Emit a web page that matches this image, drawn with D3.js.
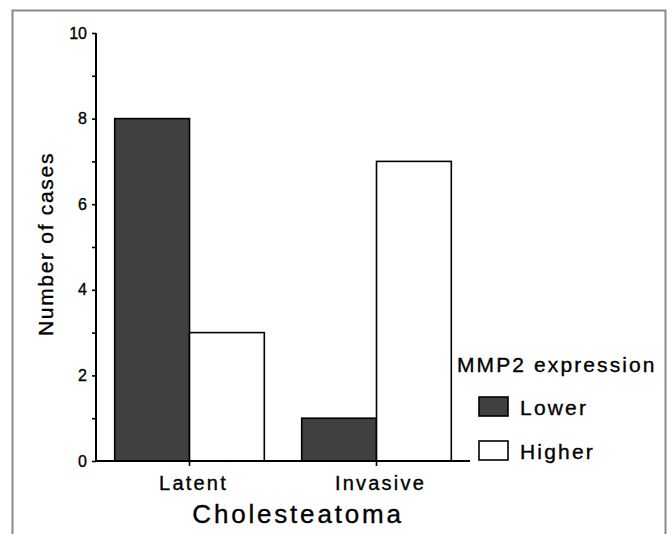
<!DOCTYPE html>
<html>
<head>
<meta charset="utf-8">
<script src="https://cdn.jsdelivr.net/npm/d3@7"></script>
<style>
  html, body { margin: 0; padding: 0; background: #fff; }
  text { font-family: Arial, "Liberation Sans", sans-serif; fill: #000; stroke: #000; stroke-width: 0.35px; }
</style>
</head>
<body>
<div id="chart"></div>
<script>
// data
var categories = ["Latent", "Invasive"];
var seriesNames = ["Lower", "Higher"];
var lowerValues = [8, 1];
var higherValues = [3, 7];
var yTicks = [0, 2, 4, 6, 8, 10];

var width = 672, height = 534;
var colors = { Lower: "#404040", Higher: "#ffffff" };

var svg = d3.select("#chart").append("svg")
    .attr("width", width)
    .attr("height", height);

// grey frame, open at bottom
svg.append("path")
    .attr("d", "M12.5,534 V10.5 H665.5 V534")
    .attr("fill", "none")
    .attr("stroke", "#8a8a8a")
    .attr("stroke-width", 2);

var x0 = d3.scaleBand().domain(categories).range([96, 470]).paddingInner(0.2).paddingOuter(0.1);
var x1 = d3.scaleBand().domain(seriesNames).range([0, x0.bandwidth()]);
var y = d3.scaleLinear().domain([0, 10]).range([461, 33]);

var rows = categories.map(function (c, i) {
  return { cat: c, values: [{ key: "Lower", v: lowerValues[i] }, { key: "Higher", v: higherValues[i] }] };
});

// bars
var groups = svg.selectAll("g.grp").data(rows).enter().append("g")
    .attr("class", "grp")
    .attr("transform", function (d) { return "translate(" + x0(d.cat) + ",0)"; });

groups.selectAll("rect").data(function (d) { return d.values; }).enter().append("rect")
    .attr("x", function (d) { return x1(d.key); })
    .attr("y", function (d) { return y(d.v); })
    .attr("width", x1.bandwidth())
    .attr("height", function (d) { return y(0) - y(d.v); })
    .attr("fill", function (d) { return colors[d.key]; })
    .attr("stroke", "#000")
    .attr("stroke-width", 1.6);

// y axis
var yAxis = svg.append("g")
    .attr("transform", "translate(96,0)")
    .call(d3.axisLeft(y).tickValues(d3.range(0, 11, 1)).tickSize(4).tickPadding(5)
      .tickFormat(function (d) { return yTicks.indexOf(d) >= 0 ? d : ""; }));
yAxis.select(".domain").attr("d", "M0," + y(10) + "V" + y(0)).attr("stroke-width", 2);
yAxis.selectAll(".tick line").attr("stroke-width", 1.6);
yAxis.selectAll("text").style("font-size", "16px").attr("fill", "#000");

// x axis
var xAxis = svg.append("g")
    .attr("transform", "translate(0," + y(0) + ")")
    .call(d3.axisBottom(x0).tickSize(5).tickPadding(10));
xAxis.select(".domain").attr("d", "M96,0H470").attr("stroke-width", 2);
xAxis.selectAll(".tick line").attr("stroke-width", 1.6);
xAxis.selectAll("text")
    .style("font-size", "20px")
    .style("letter-spacing", "2.2px")
    .attr("dx", 4)
    .attr("fill", "#000");

// axis titles
svg.append("text")
    .attr("x", 298).attr("y", 523)
    .attr("text-anchor", "middle")
    .style("font-size", "26px")
    .style("letter-spacing", "2.8px")
    .text("Cholesteatoma");

svg.append("text")
    .attr("transform", "translate(53,244) rotate(-90)")
    .attr("text-anchor", "middle")
    .style("font-size", "21px")
    .style("letter-spacing", "1.7px")
    .text("Number of cases");

// legend
var legend = svg.append("g");
legend.append("text")
    .attr("x", 457).attr("y", 372)
    .style("font-size", "21px")
    .style("letter-spacing", "2.1px")
    .text("MMP2 expression");

var items = legend.selectAll("g.item").data(seriesNames).enter().append("g")
    .attr("class", "item")
    .attr("transform", function (d, i) { return "translate(479," + (397 + i * 44) + ")"; });
items.append("rect")
    .attr("width", 29).attr("height", 19)
    .attr("fill", function (d) { return colors[d]; })
    .attr("stroke", "#000").attr("stroke-width", 1.6);
items.append("text")
    .attr("x", 41).attr("y", 18)
    .style("font-size", "21px")
    .style("letter-spacing", "2.2px")
    .text(function (d) { return d; });
</script>
</body>
</html>
